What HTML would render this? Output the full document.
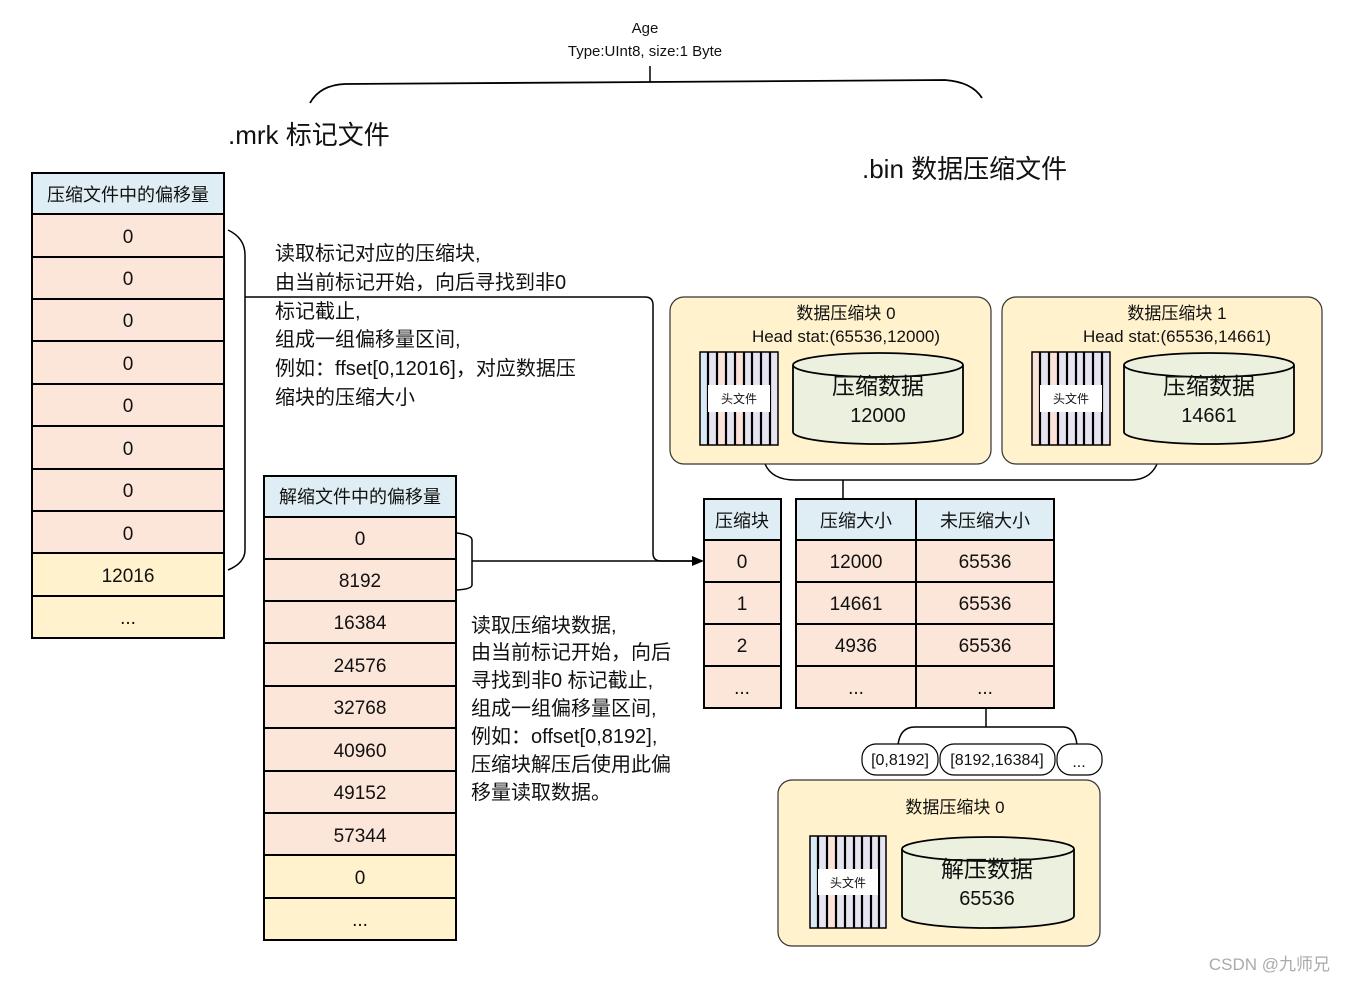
<!DOCTYPE html>
<html><head><meta charset="utf-8"><style>
html,body{margin:0;padding:0;background:#fff}
svg{display:block}
text{font-family:"Liberation Sans","Noto Sans CJK SC",sans-serif;fill:#111}
</style></head><body>
<svg width="1346" height="982" viewBox="0 0 1346 982" xmlns="http://www.w3.org/2000/svg">
<text x="645" y="33" font-size="15" text-anchor="middle">Age</text>
<text x="645" y="56" font-size="15" text-anchor="middle">Type:UInt8, size:1 Byte</text>
<path d="M650 66 V82" stroke="#000" stroke-width="1.5" fill="none"/>
<path d="M310 103 Q320 85 345 84 L650 82 L945 80 Q972 82 982 98" stroke="#000" stroke-width="1.8" fill="none"/>
<text x="228" y="144" font-size="26">.mrk 标记文件</text>
<text x="862" y="178" font-size="26">.bin 数据压缩文件</text>

<g stroke="#000" stroke-width="2">
<rect x="32" y="173" width="192" height="41" fill="#deeef4"/>
<rect x="32" y="214" width="192" height="43" fill="#fbe6d9"/>
<rect x="32" y="257" width="192" height="42" fill="#fbe6d9"/>
<rect x="32" y="299" width="192" height="42" fill="#fbe6d9"/>
<rect x="32" y="341" width="192" height="43" fill="#fbe6d9"/>
<rect x="32" y="384" width="192" height="42" fill="#fbe6d9"/>
<rect x="32" y="426" width="192" height="43" fill="#fbe6d9"/>
<rect x="32" y="469" width="192" height="42" fill="#fbe6d9"/>
<rect x="32" y="511" width="192" height="42" fill="#fbe6d9"/>
<rect x="32" y="553" width="192" height="43" fill="#fff2cc"/>
<rect x="32" y="596" width="192" height="42" fill="#fff2cc"/>
</g>
<g font-size="19" text-anchor="middle">
<text x="128" y="201" font-size="18">压缩文件中的偏移量</text>
<text x="128" y="243">0</text><text x="128" y="285">0</text><text x="128" y="327">0</text>
<text x="128" y="370">0</text><text x="128" y="412">0</text><text x="128" y="455">0</text>
<text x="128" y="497">0</text><text x="128" y="540">0</text><text x="128" y="582">12016</text>
<text x="128" y="624">...</text>
</g>
<path d="M228 230 Q245 238 245 255 V550 Q245 563 228 570" stroke="#000" stroke-width="1.5" fill="none"/>
<path d="M245 297 H645 Q653 297 653 305 V553 Q653 561 661 561 H700" stroke="#000" stroke-width="1.5" fill="none"/>
<polygon points="704,561 692,556 692,566" fill="#000"/>

<g font-size="20">
<text x="275" y="260">读取标记对应的压缩块,</text>
<text x="275" y="289">由当前标记开始，向后寻找到非0</text>
<text x="275" y="318">标记截止,</text>
<text x="275" y="346">组成一组偏移量区间,</text>
<text x="275" y="375">例如：ffset[0,12016]，对应数据压</text>
<text x="275" y="404">缩块的压缩大小</text>
</g>

<g stroke="#000" stroke-width="2">
<rect x="264" y="476" width="192" height="41" fill="#deeef4"/>
<rect x="264" y="517" width="192" height="42" fill="#fbe6d9"/>
<rect x="264" y="559" width="192" height="42" fill="#fbe6d9"/>
<rect x="264" y="601" width="192" height="42" fill="#fbe6d9"/>
<rect x="264" y="643" width="192" height="43" fill="#fbe6d9"/>
<rect x="264" y="686" width="192" height="42" fill="#fbe6d9"/>
<rect x="264" y="728" width="192" height="43" fill="#fbe6d9"/>
<rect x="264" y="771" width="192" height="42" fill="#fbe6d9"/>
<rect x="264" y="813" width="192" height="42" fill="#fbe6d9"/>
<rect x="264" y="855" width="192" height="43" fill="#fff2cc"/>
<rect x="264" y="898" width="192" height="42" fill="#fff2cc"/>
</g>
<g font-size="19" text-anchor="middle">
<text x="360" y="503" font-size="18">解缩文件中的偏移量</text>
<text x="360" y="545">0</text><text x="360" y="587">8192</text><text x="360" y="629">16384</text>
<text x="360" y="672">24576</text><text x="360" y="714">32768</text><text x="360" y="757">40960</text>
<text x="360" y="799">49152</text><text x="360" y="842">57344</text><text x="360" y="884">0</text>
<text x="360" y="926">...</text>
</g>
<path d="M457 533 Q472 535 472 540 V585 Q472 589 457 590" stroke="#000" stroke-width="1.5" fill="none"/>
<path d="M472 561 H700" stroke="#000" stroke-width="1.5"/>

<g font-size="20">
<text x="471" y="632">读取压缩块数据,</text>
<text x="471" y="659">由当前标记开始，向后</text>
<text x="471" y="687">寻找到非0 标记截止,</text>
<text x="471" y="715">组成一组偏移量区间,</text>
<text x="471" y="743">例如：offset[0,8192],</text>
<text x="471" y="771">压缩块解压后使用此偏</text>
<text x="471" y="799">移量读取数据。</text>
</g>

<g stroke="#000" stroke-width="2">
<rect x="704" y="499" width="77" height="41" fill="#deeef4"/>
<rect x="704" y="540" width="77" height="42" fill="#fbe6d9"/>
<rect x="704" y="582" width="77" height="42" fill="#fbe6d9"/>
<rect x="704" y="624" width="77" height="42" fill="#fbe6d9"/>
<rect x="704" y="666" width="77" height="42" fill="#fbe6d9"/>
<rect x="796" y="499" width="120" height="41" fill="#deeef4"/>
<rect x="916" y="499" width="138" height="41" fill="#deeef4"/>
<rect x="796" y="540" width="120" height="42" fill="#fbe6d9"/>
<rect x="916" y="540" width="138" height="42" fill="#fbe6d9"/>
<rect x="796" y="582" width="120" height="42" fill="#fbe6d9"/>
<rect x="916" y="582" width="138" height="42" fill="#fbe6d9"/>
<rect x="796" y="624" width="120" height="42" fill="#fbe6d9"/>
<rect x="916" y="624" width="138" height="42" fill="#fbe6d9"/>
<rect x="796" y="666" width="120" height="42" fill="#fbe6d9"/>
<rect x="916" y="666" width="138" height="42" fill="#fbe6d9"/>
</g>
<g font-size="19" text-anchor="middle">
<text x="742" y="527" font-size="18">压缩块</text>
<text x="856" y="527" font-size="18">压缩大小</text>
<text x="985" y="527" font-size="18">未压缩大小</text>
<text x="742" y="568">0</text><text x="856" y="568">12000</text><text x="985" y="568">65536</text>
<text x="742" y="610">1</text><text x="856" y="610">14661</text><text x="985" y="610">65536</text>
<text x="742" y="652">2</text><text x="856" y="652">4936</text><text x="985" y="652">65536</text>
<text x="742" y="694">...</text><text x="856" y="694">...</text><text x="985" y="694">...</text>
</g>

<path d="M765 464 Q772 480 795 480 H1130 Q1150 480 1157 464" stroke="#000" stroke-width="1.5" fill="none"/>
<path d="M843 480 V499" stroke="#000" stroke-width="1.5"/>
<path d="M986 708 V727" stroke="#000" stroke-width="1.5"/>
<path d="M898 745 Q900 727 915 727 H1063 Q1075 727 1077 745" stroke="#000" stroke-width="1.5" fill="none"/>

<g stroke="#000" stroke-width="1.2" fill="#fff">
<rect x="862" y="744" width="76" height="31" rx="14"/>
<rect x="940" y="744" width="115" height="31" rx="14"/>
<rect x="1057" y="744" width="45" height="31" rx="14"/>
</g>
<g font-size="16" text-anchor="middle">
<text x="900" y="765">[0,8192]</text>
<text x="997" y="765">[8192,16384]</text>
<text x="1079" y="767">...</text>
</g>

<g stroke="#333" stroke-width="1.2" fill="#fff2cc">
<rect x="670" y="297" width="321" height="167" rx="14"/>
<rect x="1002" y="297" width="320" height="167" rx="14"/>
<rect x="778" y="780" width="322" height="166" rx="14"/>
</g>
<g font-size="17" text-anchor="middle">
<text x="846" y="319">数据压缩块 0</text>
<text x="846" y="342">Head stat:(65536,12000)</text>
<text x="1177" y="319">数据压缩块 1</text>
<text x="1177" y="342">Head stat:(65536,14661)</text>
<text x="955" y="813">数据压缩块 0</text>
</g>

<g transform="translate(700,352)">
<rect x="0" y="0" width="78" height="93" fill="#e6e4f0"/>
<rect x="0" y="0" width="8" height="93" fill="#dbe9f4"/>
<rect x="17" y="0" width="9" height="93" fill="#fbe3d9"/>
<rect x="35" y="0" width="9" height="93" fill="#fbe3d9"/>
<g stroke="#000" stroke-width="2.2">
<path d="M8 0V93M17 0V93M26 0V93M35 0V93M44 0V93M52 0V93M61 0V93M70 0V93"/>
</g>
<rect x="0" y="0" width="78" height="93" fill="none" stroke="#000" stroke-width="1.5"/>
<rect x="8" y="33" width="62" height="27" fill="#fff"/>
<text x="39" y="51" font-size="12" text-anchor="middle">头文件</text>
</g>
<g transform="translate(1032,352)">
<rect x="0" y="0" width="78" height="93" fill="#e6e4f0"/>
<rect x="0" y="0" width="8" height="93" fill="#fbe3d9"/>
<rect x="17" y="0" width="9" height="93" fill="#fbe3d9"/>
<g stroke="#000" stroke-width="2.2">
<path d="M8 0V93M17 0V93M26 0V93M35 0V93M44 0V93M52 0V93M61 0V93M70 0V93"/>
</g>
<rect x="0" y="0" width="78" height="93" fill="none" stroke="#000" stroke-width="1.5"/>
<rect x="8" y="33" width="62" height="27" fill="#fff"/>
<text x="39" y="51" font-size="12" text-anchor="middle">头文件</text>
</g>
<g transform="translate(810,836)">
<rect x="0" y="0" width="76" height="92" fill="#e6e4f0"/>
<rect x="0" y="0" width="8" height="92" fill="#dbe9f4"/>
<rect x="17" y="0" width="9" height="92" fill="#fbe3d9"/>
<g stroke="#000" stroke-width="2.2">
<path d="M8 0V92M17 0V92M26 0V92M35 0V92M44 0V92M52 0V92M61 0V92M69 0V92"/>
</g>
<rect x="0" y="0" width="76" height="92" fill="none" stroke="#000" stroke-width="1.5"/>
<rect x="8" y="33" width="60" height="26" fill="#fff"/>
<text x="38" y="51" font-size="12" text-anchor="middle">头文件</text>
</g>

<g stroke="#000" stroke-width="1.8" fill="#ebf1de">
<path d="M793 365 V432 A85 12 0 0 0 963 432 V365"/>
<ellipse cx="878" cy="365" rx="85" ry="12"/>
<path d="M1124 365 V432 A85 12 0 0 0 1294 432 V365"/>
<ellipse cx="1209" cy="365" rx="85" ry="12"/>
<path d="M902 849 V916 A86 12 0 0 0 1074 916 V849"/>
<ellipse cx="988" cy="849" rx="86" ry="12"/>
</g>
<g text-anchor="middle">
<text x="878" y="394" font-size="23">压缩数据</text>
<text x="878" y="422" font-size="20">12000</text>
<text x="1209" y="394" font-size="23">压缩数据</text>
<text x="1209" y="422" font-size="20">14661</text>
<text x="987" y="877" font-size="23">解压数据</text>
<text x="987" y="905" font-size="20">65536</text>
</g>

<text x="1330" y="970" font-size="17" text-anchor="end" style="fill:#aaa">CSDN @九师兄</text>
</svg>
</body></html>
